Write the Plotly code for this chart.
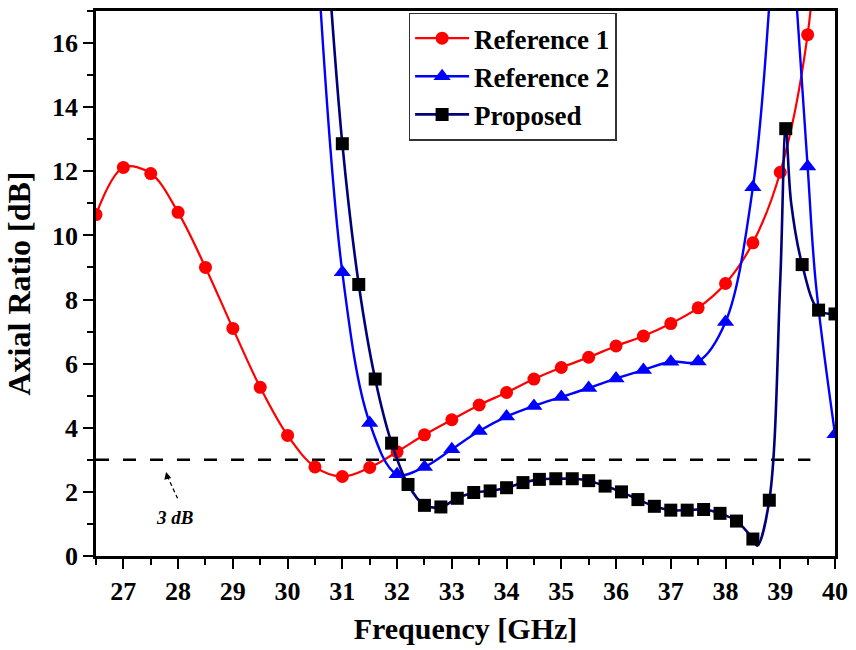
import plotly.graph_objects as go

# Reference 1 (red circles)
ref1_freq = [26.5, 27.0, 27.5, 28.0, 28.5, 29.0, 29.5, 30.0, 30.5, 31.0, 31.5, 32.0, 32.5, 33.0,
             33.5, 34.0, 34.5, 35.0, 35.5, 36.0, 36.5, 37.0, 37.5, 38.0, 38.5, 39.0, 39.5]
ref1_ar = [10.65, 12.12, 11.93, 10.72, 9.0, 7.1, 5.26, 3.76, 2.78, 2.48, 2.76, 3.25, 3.78, 4.25,
           4.71, 5.1, 5.52, 5.88, 6.2, 6.55, 6.86, 7.25, 7.74, 8.5, 9.77, 11.97, 16.26]
# curve continues above the plot after the last marker
ref1_tail_freq = [39.75]
ref1_tail_ar = [22.0]

# Reference 2 (blue triangles)
ref2_freq = [31.0, 31.5, 32.0, 32.5, 33.0, 33.5, 34.0, 34.5, 35.0, 35.5, 36.0, 36.5, 37.0, 37.5,
             38.0, 38.5, 39.5, 40.0]
ref2_ar = [8.85, 4.15, 2.55, 2.78, 3.33, 3.9, 4.35, 4.68, 4.96, 5.24, 5.54, 5.8, 6.06, 6.07,
           7.3, 11.5, 12.15, 3.8]
# unmarked curve points (off-scale peaks and bends)
ref2_extra_freq = [30.5, 38.8, 39.05, 39.3, 39.65]
ref2_extra_ar = [20.0, 17.2, 25.0, 17.2, 8.5]

# Proposed (black squares, navy line)
prop_freq = [31.0, 31.3, 31.6, 31.9, 32.2, 32.5, 32.8, 33.1, 33.4, 33.7, 34.0, 34.3, 34.6, 34.9,
             35.2, 35.5, 35.8, 36.1, 36.4, 36.7, 37.0, 37.3, 37.6, 37.9, 38.2, 38.5, 38.8, 39.1,
             39.4, 39.7, 40.0]
prop_ar = [12.86, 8.47, 5.52, 3.52, 2.23, 1.58, 1.53, 1.80, 1.98, 2.03, 2.13, 2.29, 2.39, 2.41,
           2.41, 2.35, 2.18, 2.0, 1.76, 1.55, 1.43, 1.43, 1.45, 1.33, 1.09, 0.53, 1.74, 13.33,
           9.09, 7.67, 7.55]
prop_extra_freq = [30.7, 38.58, 39.0, 39.2]
prop_extra_ar = [19.5, 0.32, 8.6, 11.0]

# 3 dB threshold
thr_freq = [26.5, 39.55]
thr_ar = [3.0, 3.0]

x_ticks = [27, 28, 29, 30, 31, 32, 33, 34, 35, 36, 37, 38, 39, 40]
y_ticks = [0, 2, 4, 6, 8, 10, 12, 14, 16]

FONT = "Liberation Serif"


def merged(xa, ya, xb, yb):
    pts = sorted(zip(list(xa) + list(xb), list(ya) + list(yb)))
    return [p[0] for p in pts], [p[1] for p in pts]


series = [
    ("Reference 1", ref1_freq, ref1_ar, ref1_tail_freq, ref1_tail_ar,
     "#ff0000", "#ff0000", "circle", 13, 2.2),
    ("Reference 2", ref2_freq, ref2_ar, ref2_extra_freq, ref2_extra_ar,
     "#0000ff", "#0000ff", "triangle-up", 15, 2.4),
    ("Proposed", prop_freq, prop_ar, prop_extra_freq, prop_extra_ar,
     "#00007a", "#000000", "square", 13, 2.6),
]

fig = go.Figure()

fig.add_trace(go.Scatter(
    x=thr_freq, y=thr_ar, mode="lines", showlegend=False, hoverinfo="skip",
    line=dict(color="black", width=2.4, dash="13px,14px")))

for name, xs, ys, xe, ye, lcol, mcol, sym, msize, lw in series:
    lx, ly = merged(xs, ys, xe, ye)
    fig.add_trace(go.Scatter(
        x=lx, y=ly, mode="lines", showlegend=False, hoverinfo="skip",
        line=dict(color=lcol, width=lw, shape="spline", smoothing=1.0)))
    fig.add_trace(go.Scatter(
        x=xs, y=ys, mode="markers", showlegend=False, name=name,
        marker=dict(color=mcol, symbol=sym, size=msize, line=dict(width=0))))
    fig.add_trace(go.Scatter(
        x=[None], y=[None], mode="lines+markers", name=name,
        line=dict(color=lcol, width=lw),
        marker=dict(color=mcol, symbol=sym, size=msize, line=dict(width=0))))

# dashed pointer from the label up to the 3 dB line
fig.add_shape(type="line", xref="x", yref="y",
              x0=27.80, y0=2.50, x1=27.99, y1=1.80,
              line=dict(color="black", width=1.3, dash="4px,3px"))
fig.add_annotation(
    x=27.78, y=2.62, xref="x", yref="y",
    ax=2, ay=8, axref="pixel", ayref="pixel",
    text="", showarrow=True,
    arrowhead=2, arrowsize=1.1, arrowwidth=1.3, arrowcolor="black")
fig.add_annotation(
    x=27.93, y=1.2, xref="x", yref="y", showarrow=False,
    text="<i>3 dB</i>",
    font=dict(family=FONT, size=19, color="black", weight="bold"))

axis_common = dict(
    showline=True, linecolor="black", linewidth=2.5, mirror=True,
    ticks="outside", tickcolor="black", tickwidth=2,
    showgrid=False, zeroline=False,
    tickfont=dict(family=FONT, size=26, color="black", weight="bold"),
)

fig.update_xaxes(
    range=[26.5, 40], tickmode="array", tickvals=x_ticks,
    ticktext=[str(v) for v in x_ticks], ticklen=10,
    minor=dict(dtick=0.5, tick0=26.5, ticklen=6, tickwidth=2, tickcolor="black", ticks="outside"),
    title=dict(text="Frequency [GHz]", standoff=14,
               font=dict(family=FONT, size=30, color="black", weight="bold")),
    **axis_common)

fig.update_yaxes(
    range=[0, 17], tickmode="array", tickvals=y_ticks,
    ticktext=[str(v) for v in y_ticks], ticklen=10,
    minor=dict(dtick=1, tick0=0, ticklen=6, tickwidth=2, tickcolor="black", ticks="outside"),
    title=dict(text="Axial Ratio [dB]", standoff=12,
               font=dict(family=FONT, size=32, color="black", weight="bold")),
    **axis_common)

fig.update_layout(
    width=856, height=650,
    margin=dict(l=96, r=16, t=8, b=94),
    paper_bgcolor="white", plot_bgcolor="white",
    showlegend=True,
    legend=dict(
        x=0.423, y=0.997, xanchor="left", yanchor="top",
        bgcolor="white", bordercolor="#333333", borderwidth=1.5,
        font=dict(family=FONT, size=27, color="black", weight="bold"),
        tracegroupgap=0, itemwidth=54),
)

fig.write_html("out.html")
